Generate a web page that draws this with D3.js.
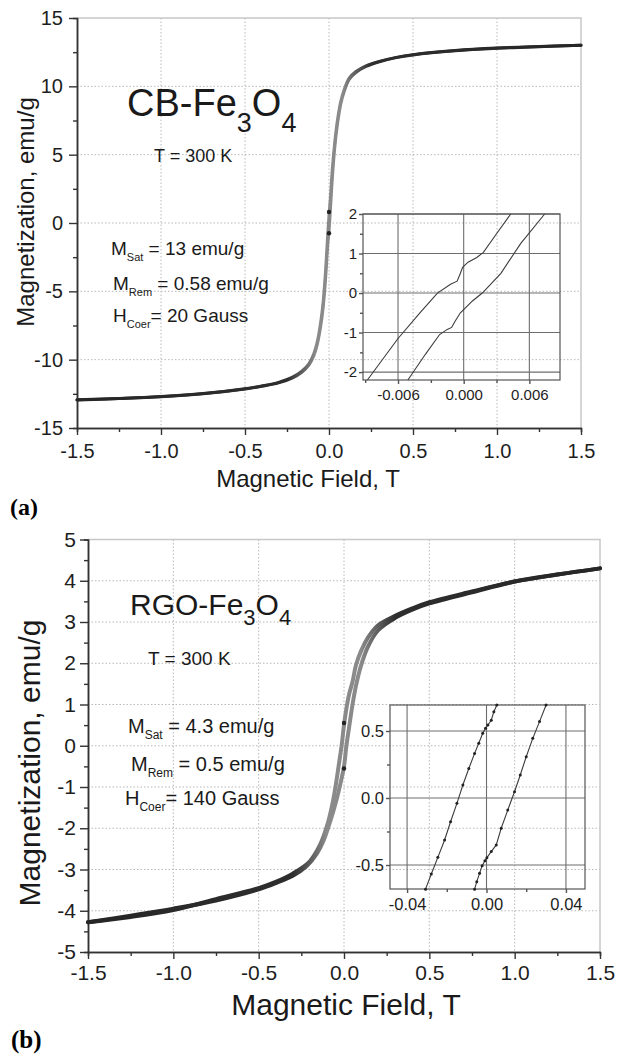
<!DOCTYPE html>
<html>
<head>
<meta charset="utf-8">
<script src="https://cdn.jsdelivr.net/npm/d3@7"></script>
<style>
  body { margin: 0; background: #fff; }
  svg { display: block; }
  text { white-space: pre; }
</style>
</head>
<body>
<div id="chart"></div>
<script>
const svgWidth = 624;
const svgHeight = 1057;
const FONT = "'Liberation Sans', Arial, sans-serif";

// shared tick labels
const xTicks = [-1.5, -1.0, -0.5, 0, 0.5, 1.0, 1.5];
const yTicksA = [-15, -10, -5, 0, 5, 10, 15];
const yTicksB = [-5, -4, -3, -2, -1, 0, 1, 2, 3, 4, 5];

// (a) CB-Fe3O4 main loop
const fieldUpA = [-1.5, -1.25, -1.0, -0.75, -0.5, -0.4, -0.3, -0.22, -0.16, -0.12, -0.09, -0.07, -0.05, -0.035, -0.02, -0.008, 0, 0.008, 0.02, 0.035, 0.05, 0.07, 0.09, 0.12, 0.16, 0.22, 0.3, 0.4, 0.5, 0.75, 1.0, 1.25, 1.5];
const magUpA = [-12.95, -12.85, -12.72, -12.5, -12.15, -11.95, -11.7, -11.35, -10.9, -10.4, -9.7, -8.9, -7.6, -6.2, -4.0, -1.7, -0.58, 0.9, 3.3, 5.6, 7.2, 8.7, 9.6, 10.5, 11.0, 11.45, 11.8, 12.1, 12.3, 12.6, 12.78, 12.9, 13.0];
const fieldDownA = [1.5, 1.25, 1.0, 0.75, 0.5, 0.4, 0.3, 0.22, 0.16, 0.12, 0.09, 0.07, 0.05, 0.035, 0.02, 0.008, 0, -0.008, -0.02, -0.035, -0.05, -0.07, -0.09, -0.12, -0.16, -0.22, -0.3, -0.4, -0.5, -0.75, -1.0, -1.25, -1.5];
const magDownA = [13.0, 12.91, 12.8, 12.62, 12.32, 12.12, 11.83, 11.5, 11.08, 10.6, 9.75, 8.9, 7.5, 6.0, 4.0, 1.8, 0.58, -0.9, -3.4, -5.8, -7.3, -8.7, -9.55, -10.3, -10.82, -11.3, -11.66, -11.92, -12.12, -12.48, -12.7, -12.84, -12.94];
const remA = [0.8, -0.75];

// (a) inset, low-field part of the loop
const inAxTicks = [-0.006, 0, 0.006];
const inAyTicks = [-2, -1, 0, 1, 2];
const inAFieldL = [-0.0088, -0.0060, -0.0040, -0.0024, -0.0012, -0.0006, -0.0003, -0.0001, 0.0004, 0.0012, 0.0018, 0.0030, 0.0043];
const inAMagL = [-2.2, -1.15, -0.5, 0.0, 0.22, 0.3, 0.5, 0.65, 0.78, 0.9, 1.03, 1.5, 2.0];
const inAFieldR = [-0.0051, -0.0035, -0.0022, -0.0015, -0.0011, -0.0008, -0.0003, 0.0008, 0.0017, 0.0034, 0.0052, 0.0074];
const inAMagR = [-2.2, -1.55, -1.05, -0.92, -0.87, -0.72, -0.5, -0.2, 0.0, 0.5, 1.25, 2.0];

// (b) RGO-Fe3O4 main loop
const fieldUpB = [-1.5, -1.25, -1.0, -0.75, -0.5, -0.4, -0.3, -0.22, -0.16, -0.12, -0.09, -0.06, -0.04, -0.02, 0, 0.014, 0.03, 0.05, 0.07, 0.1, 0.14, 0.2, 0.3, 0.4, 0.5, 0.75, 1.0, 1.25, 1.5];
const magUpB = [-4.28, -4.12, -3.95, -3.75, -3.48, -3.33, -3.15, -2.92, -2.62, -2.3, -1.95, -1.55, -1.25, -0.9, -0.5, 0.0, 0.45, 1.0, 1.45, 1.95, 2.4, 2.8, 3.1, 3.3, 3.45, 3.72, 3.98, 4.15, 4.3];
const fieldDownB = [1.5, 1.25, 1.0, 0.75, 0.5, 0.4, 0.3, 0.2, 0.14, 0.1, 0.07, 0.05, 0.03, 0.014, 0, -0.014, -0.03, -0.05, -0.07, -0.1, -0.14, -0.2, -0.3, -0.4, -0.5, -0.75, -1.0, -1.25, -1.5];
const magDownB = [4.3, 4.15, 3.98, 3.74, 3.48, 3.33, 3.15, 2.92, 2.62, 2.3, 1.95, 1.55, 1.25, 0.9, 0.5, 0.0, -0.45, -1.0, -1.45, -1.95, -2.4, -2.8, -3.1, -3.3, -3.45, -3.72, -3.98, -4.15, -4.28];
const remB = [0.55, -0.55];

// (b) inset
const inBxTicks = [-0.04, 0, 0.04];
const inByTicks = [-0.5, 0, 0.5];
const inBFieldL = [-0.0307, -0.0278, -0.0245, -0.0211, -0.0181, -0.0149, -0.0119, -0.0089, -0.0060, -0.0039, -0.0019, -0.0005, 0.0007, 0.0024, 0.0037, 0.0052];
const inBMagL = [-0.68, -0.567, -0.443, -0.313, -0.177, -0.04, 0.097, 0.22, 0.333, 0.408, 0.483, 0.52, 0.545, 0.58, 0.644, 0.694];
const inBFieldR = [-0.0060, -0.0049, -0.0035, -0.0022, -0.0008, 0.0002, 0.0024, 0.0049, 0.0074, 0.0107, 0.0141, 0.0170, 0.0200, 0.0233, 0.0267, 0.0300];
const inBMagR = [-0.68, -0.624, -0.562, -0.505, -0.468, -0.445, -0.40, -0.35, -0.226, -0.09, 0.047, 0.172, 0.308, 0.445, 0.57, 0.694];

const svg = d3.select("#chart")
  .append("svg")
  .attr("width", svgWidth)
  .attr("height", svgHeight)
  .style("background", "#fff");

const defs = svg.append("defs");

function zip(a, b) {
  return a.map((d, i) => [d, b[i]]);
}

function styleAxis(sel, size, color) {
  sel.attr("font-family", FONT).attr("font-size", size);
  sel.select(".domain").attr("stroke", color).attr("stroke-width", 1.5);
  sel.selectAll(".tick line").attr("stroke", color).attr("stroke-width", 1.4);
  sel.selectAll(".tick text").attr("fill", "#1e1e1e");
}

function drawPanel(cfg) {
  const x = d3.scaleLinear().domain([-1.5, 1.5]).range([cfg.left, cfg.right]);
  const y = d3.scaleLinear().domain(cfg.yDomain).range([cfg.bottom, cfg.top]);
  const g = svg.append("g");

  // dotted grid at major ticks
  g.append("g").selectAll("line")
    .data(xTicks.slice(1, -1))
    .join("line")
    .attr("x1", d => x(d)).attr("x2", d => x(d))
    .attr("y1", cfg.top).attr("y2", cfg.bottom)
    .attr("stroke", "#b8b8b8").attr("stroke-width", 1)
    .attr("stroke-dasharray", "1.5,2");
  g.append("g").selectAll("line")
    .data(cfg.yTicks.slice(1, -1))
    .join("line")
    .attr("x1", cfg.left).attr("x2", cfg.right)
    .attr("y1", d => y(d)).attr("y2", d => y(d))
    .attr("stroke", "#b8b8b8").attr("stroke-width", 1)
    .attr("stroke-dasharray", "1.5,2");

  // light top / right frame
  g.append("path")
    .attr("d", `M${cfg.left},${cfg.top}H${cfg.right}V${cfg.bottom}`)
    .attr("fill", "none")
    .attr("stroke", "#c8c8c8")
    .attr("stroke-width", 1.5);

  // minor ticks
  const xMinor = d3.range(-1.25, 1.5, 0.5);
  const yMinor = cfg.yTicks.slice(0, -1).map((d, i) => (d + cfg.yTicks[i + 1]) / 2);
  g.append("g")
    .attr("transform", `translate(0, ${cfg.bottom})`)
    .call(d3.axisBottom(x).tickValues(xMinor).tickSize(4).tickFormat(""))
    .call(s => styleAxis(s, cfg.tickFont, "#333"));
  g.append("g")
    .attr("transform", `translate(${cfg.left}, 0)`)
    .call(d3.axisLeft(y).tickValues(yMinor).tickSize(4).tickFormat(""))
    .call(s => styleAxis(s, cfg.tickFont, "#333"));

  // major axes
  g.append("g")
    .attr("transform", `translate(0, ${cfg.bottom})`)
    .call(d3.axisBottom(x).tickValues(xTicks).tickSize(7).tickSizeOuter(0)
      .tickPadding(cfg.xPad).tickFormat(d => d.toFixed(1)))
    .call(s => styleAxis(s, cfg.tickFont, "#333"));
  g.append("g")
    .attr("transform", `translate(${cfg.left}, 0)`)
    .call(d3.axisLeft(y).tickValues(cfg.yTicks).tickSize(8).tickSizeOuter(0)
      .tickPadding(cfg.yPad).tickFormat(d => String(d)))
    .call(s => styleAxis(s, cfg.tickFont, "#333"));

  // axis titles
  g.append("text")
    .attr("x", cfg.xTitle[0]).attr("y", cfg.xTitle[1])
    .attr("text-anchor", "middle")
    .attr("font-family", FONT).attr("font-size", cfg.titleFont)
    .attr("fill", "#1a1a1a")
    .text("Magnetic Field, T");
  g.append("text")
    .attr("transform", `translate(${cfg.yTitle[0]}, ${cfg.yTitle[1]}) rotate(-90)`)
    .attr("text-anchor", "middle")
    .attr("font-family", FONT).attr("font-size", cfg.titleFont)
    .attr("fill", "#1a1a1a")
    .text("Magnetization, emu/g");

  // gradient: dark tails, grey steep middle
  const grad = defs.append("linearGradient")
    .attr("id", cfg.id + "-grad")
    .attr("gradientUnits", "userSpaceOnUse")
    .attr("x1", x(-1.5)).attr("x2", x(1.5)).attr("y1", 0).attr("y2", 0);
  const span = x(1.5) - x(-1.5);
  [[-1.5, "#262626"], [-cfg.fade[1], "#2e2e2e"], [-cfg.fade[0], "#8a8a8a"],
   [cfg.fade[0], "#8a8a8a"], [cfg.fade[1], "#2e2e2e"], [1.5, "#262626"]]
    .forEach(([v, c]) => {
      grad.append("stop")
        .attr("offset", (x(v) - x(-1.5)) / span)
        .attr("stop-color", c);
    });

  const line = d3.line()
    .x(d => x(d[0]))
    .y(d => y(d[1]))
    .curve(d3.curveCatmullRom.alpha(0.5));

  g.append("path")
    .datum(zip(cfg.upField, cfg.upMag))
    .attr("d", line)
    .attr("fill", "none")
    .attr("stroke", `url(#${cfg.id}-grad)`)
    .attr("stroke-width", cfg.lineWidth)
    .attr("stroke-linecap", "round");
  g.append("path")
    .datum(zip(cfg.downField, cfg.downMag))
    .attr("d", line)
    .attr("fill", "none")
    .attr("stroke", `url(#${cfg.id}-grad)`)
    .attr("stroke-width", cfg.lineWidth)
    .attr("stroke-linecap", "round");

  g.append("g").selectAll("circle")
    .data(cfg.rem)
    .join("circle")
    .attr("cx", x(0))
    .attr("cy", d => y(d))
    .attr("r", 2.2)
    .attr("fill", "#222");

  return g;
}

function drawInset(cfg) {
  const x = d3.scaleLinear().domain(cfg.xDomain).range([cfg.left, cfg.right]);
  const y = d3.scaleLinear().domain(cfg.yDomain).range([cfg.bottom, cfg.top]);
  const g = svg.append("g");

  // solid grid
  g.append("g").selectAll("line")
    .data(cfg.xTicks)
    .join("line")
    .attr("x1", d => x(d)).attr("x2", d => x(d))
    .attr("y1", cfg.top).attr("y2", cfg.bottom)
    .attr("stroke", "#6e6e6e").attr("stroke-width", 1.1);
  g.append("g").selectAll("line")
    .data(cfg.yTicks)
    .join("line")
    .attr("x1", cfg.left).attr("x2", cfg.right)
    .attr("y1", d => y(d)).attr("y2", d => y(d))
    .attr("stroke", "#6e6e6e").attr("stroke-width", 1.1);

  g.append("rect")
    .attr("x", cfg.left).attr("y", cfg.top)
    .attr("width", cfg.right - cfg.left)
    .attr("height", cfg.bottom - cfg.top)
    .attr("fill", "none")
    .attr("stroke", "#555")
    .attr("stroke-width", 1.2);

  const xStep = cfg.xTicks[1] - cfg.xTicks[0];
  const yStep = cfg.yTicks[1] - cfg.yTicks[0];
  const xMinor = d3.range(-3, 4).map(i => cfg.xTicks[0] + (i + 0.5) * xStep)
    .filter(d => x(d) > cfg.left && x(d) < cfg.right);
  const yMinor = d3.range(-3, 6).map(i => cfg.yTicks[0] + (i + 0.5) * yStep)
    .filter(d => y(d) > cfg.top && y(d) < cfg.bottom);

  g.append("g")
    .attr("transform", `translate(0, ${cfg.bottom})`)
    .call(d3.axisBottom(x).tickValues(xMinor).tickSize(3).tickSizeOuter(0).tickFormat(""))
    .call(s => styleAxis(s, cfg.font, "#555"))
    .call(s => s.select(".domain").remove());
  g.append("g")
    .attr("transform", `translate(${cfg.left}, 0)`)
    .call(d3.axisLeft(y).tickValues(yMinor).tickSize(3).tickSizeOuter(0).tickFormat(""))
    .call(s => styleAxis(s, cfg.font, "#555"))
    .call(s => s.select(".domain").remove());
  g.append("g")
    .attr("transform", `translate(0, ${cfg.bottom})`)
    .call(d3.axisBottom(x).tickValues(cfg.xTicks).tickSize(4).tickSizeOuter(0)
      .tickPadding(5).tickFormat(d => d.toFixed(cfg.xDigits)))
    .call(s => styleAxis(s, cfg.font, "#555"))
    .call(s => s.select(".domain").remove());
  g.append("g")
    .attr("transform", `translate(${cfg.left}, 0)`)
    .call(d3.axisLeft(y).tickValues(cfg.yTicks).tickSize(4).tickSizeOuter(0)
      .tickPadding(2).tickFormat(d => d.toFixed(cfg.yDigits)))
    .call(s => styleAxis(s, cfg.font, "#555"))
    .call(s => s.select(".domain").remove());

  const line = d3.line()
    .x(d => x(d[0]))
    .y(d => y(d[1]));

  cfg.branches.forEach(br => {
    const pts = zip(br[0], br[1]);
    g.append("path")
      .datum(pts)
      .attr("d", line)
      .attr("fill", "none")
      .attr("stroke", "#3c3c3c")
      .attr("stroke-width", 1.1);
    if (cfg.markers) {
      g.append("g").selectAll("circle")
        .data(pts)
        .join("circle")
        .attr("cx", d => x(d[0]))
        .attr("cy", d => y(d[1]))
        .attr("r", 1.5)
        .attr("fill", "#222");
    }
  });
}

// text with subscripts: parts = [[text, isSub], ...]
function richText(x, y, size, subSize, shift, parts) {
  const t = svg.append("text")
    .attr("x", x).attr("y", y)
    .attr("font-family", FONT)
    .attr("font-size", size)
    .attr("fill", "#1a1a1a");
  let down = false;
  parts.forEach(([s, sub]) => {
    const dy = sub && !down ? shift : (!sub && down ? -shift : 0);
    down = sub;
    t.append("tspan")
      .attr("dy", dy)
      .attr("font-size", sub ? subSize : size)
      .text(s);
  });
  return t;
}

// ---- panel (a)
drawPanel({
  id: "a",
  left: 77, right: 581, top: 18, bottom: 428,
  yDomain: [-15, 15], yTicks: yTicksA,
  tickFont: 20, titleFont: 24,
  xPad: 9, yPad: 6,
  xTitle: [308, 487], yTitle: [34, 212],
  fade: [0.08, 0.25], lineWidth: 3,
  upField: fieldUpA, upMag: magUpA,
  downField: fieldDownA, downMag: magDownA,
  rem: remA
});

drawInset({
  left: 363, right: 560, top: 214, bottom: 380,
  xDomain: [-0.0092, 0.0088], yDomain: [-2.2, 2],
  xTicks: inAxTicks, yTicks: inAyTicks,
  xDigits: 3, yDigits: 0, font: 15, markers: false,
  branches: [[inAFieldL, inAMagL], [inAFieldR, inAMagR]]
});

richText(127, 116, 38, 27, 16, [["CB-Fe", false], ["3", true], ["O", false], ["4", true]]);
richText(154, 162, 18, 18, 0, [["T = 300 K", false]]);
richText(111, 255, 19, 11, 6, [["M", false], ["Sat", true], [" = 13 emu/g", false]]);
richText(113, 290, 19, 11, 6, [["M", false], ["Rem", true], [" = 0.58 emu/g", false]]);
richText(113, 322, 19, 11, 6, [["H", false], ["Coer", true], ["= 20 Gauss", false]]);

svg.append("text")
  .attr("x", 10).attr("y", 515)
  .attr("font-family", "'Liberation Serif', 'Times New Roman', serif")
  .attr("font-weight", "bold").attr("font-size", 24)
  .text("(a)");

// ---- panel (b)
drawPanel({
  id: "b",
  left: 88, right: 600, top: 539.5, bottom: 952,
  yDomain: [-5, 5], yTicks: yTicksB,
  tickFont: 21, titleFont: 30,
  xPad: 6, yPad: 4,
  xTitle: [346, 1015], yTitle: [40, 763],
  fade: [0.1, 0.3], lineWidth: 4,
  upField: fieldUpB, upMag: magUpB,
  downField: fieldDownB, downMag: magDownB,
  rem: remB
});

drawInset({
  left: 390, right: 585, top: 705, bottom: 889,
  xDomain: [-0.0486, 0.0496], yDomain: [-0.679, 0.694],
  xTicks: inBxTicks, yTicks: inByTicks,
  xDigits: 2, yDigits: 1, font: 16.5, markers: true,
  branches: [[inBFieldL, inBMagL], [inBFieldR, inBMagR]]
});

richText(130, 615, 30, 22, 10, [["RGO-Fe", false], ["3", true], ["O", false], ["4", true]]);
richText(148, 665, 19, 19, 0, [["T = 300 K", false]]);
richText(128, 733, 20, 12, 6, [["M", false], ["Sat", true], [" = 4.3 emu/g", false]]);
richText(131, 771, 20, 12, 6, [["M", false], ["Rem", true], [" = 0.5 emu/g", false]]);
richText(125, 805, 20, 12, 6, [["H", false], ["Coer", true], ["= 140 Gauss", false]]);

svg.append("text")
  .attr("x", 11).attr("y", 1048)
  .attr("font-family", "'Liberation Serif', 'Times New Roman', serif")
  .attr("font-weight", "bold").attr("font-size", 25)
  .text("(b)");
</script>
</body>
</html>
